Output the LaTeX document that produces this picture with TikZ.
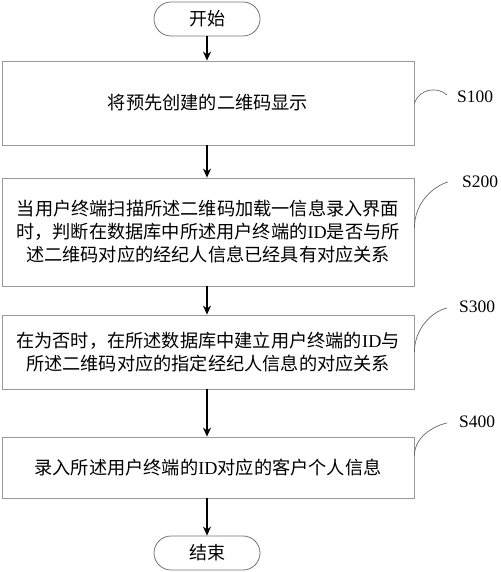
\documentclass[tikz,border=0pt]{standalone}
\usepackage{fontspec}
\setmainfont{Liberation Serif}
\newfontfamily\cjk{Noto Sans CJK SC}
\usetikzlibrary{arrows.meta}
\begin{document}
\begin{tikzpicture}[x=1pt,y=1pt,
  stepbox/.style={draw=black!40, line width=0.8pt, minimum width=412pt, align=center, inner sep=0pt, font=\cjk\fontsize{18.2}{23}\selectfont},
  term/.style={draw=black!55, line width=0.8pt, rounded corners=17pt, minimum width=106pt, minimum height=34pt, inner sep=0pt, font=\cjk\fontsize{18}{21}\selectfont},
  flow/.style={draw=black, line width=1.2pt, -{Stealth[length=9pt,width=8pt]}},
  lead/.style={draw=black!60, line width=0.7pt},
  steplabel/.style={anchor=west, inner sep=0pt, font=\fontsize{17.5}{20}\selectfont}]
\useasboundingbox (0,0) rectangle (500,572);
\node[term] (start) at (207,553) {开始};
\node[stepbox, minimum height=84pt] (s100) at (208,469) {将预先创建的二维码显示};
\node[stepbox, minimum height=108pt] (s200) at (208,340) {当用户终端扫描所述二维码加载一信息录入界面\\时，判断在数据库中所述用户终端的{\rmfamily ID}是否与所\\述二维码对应的经纪人信息已经具有对应关系};
\node[stepbox, minimum height=74pt] (s300) at (208,220) {在为否时，在所述数据库中建立用户终端的{\rmfamily ID}与\\所述二维码对应的指定经纪人信息的对应关系};
\node[stepbox, minimum height=61pt] (s400) at (208,104.5) {录入所述用户终端的{\rmfamily ID}对应的客户个人信息};
\node[term] (end) at (207,19) {结束};

\draw[flow] (start.south) -- (start.south |- s100.north);
\draw[flow] (start.south |- s100.south) -- (start.south |- s200.north);
\draw[flow] (start.south |- s200.south) -- (start.south |- s300.north);
\draw[flow] (start.south |- s300.south) -- (start.south |- s400.north);
\draw[flow] (start.south |- s400.south) -- (end.north);

\node[steplabel] (l100) at (457,475) {S100};
\node[steplabel] (l200) at (462,390) {S200};
\node[steplabel] (l300) at (459,265) {S300};
\node[steplabel] (l400) at (459,150) {S400};

\coordinate (c100) at (s100.east);
\coordinate (c200) at ([yshift=4pt]s200.east);
\coordinate (c300) at (s300.east);
\coordinate (c400) at ([yshift=12pt]s400.east);
\coordinate (e100) at ([xshift=-10pt,yshift=2pt]l100.west);
\coordinate (e200) at ([xshift=-14pt]l200.west);
\coordinate (e300) at ([xshift=-12pt,yshift=-1pt]l300.west);
\coordinate (e400) at ([xshift=-12pt,yshift=-1pt]l400.west);
\draw[lead] (c100) .. controls ([xshift=5pt,yshift=14pt]c100) and ([xshift=-10pt,yshift=9pt]e100) .. (e100);
\draw[lead] (c200) .. controls ([yshift=26pt]c200) and ([xshift=-14pt,yshift=-4pt]e200) .. (e200);
\draw[lead] (c300) .. controls ([yshift=24pt]c300) and ([xshift=-14pt,yshift=-3pt]e300) .. (e300);
\draw[lead] (c400) .. controls ([yshift=18pt]c400) and ([xshift=-14pt,yshift=-3pt]e400) .. (e400);
\end{tikzpicture}
\end{document}
